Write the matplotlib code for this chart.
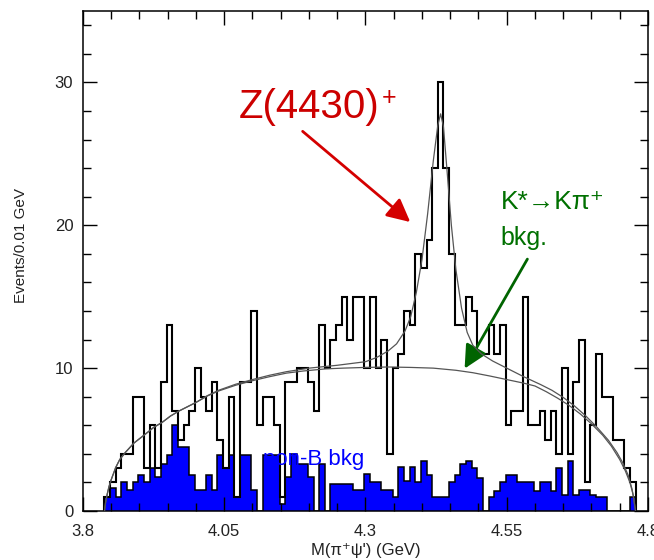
import numpy as np
import matplotlib
matplotlib.use("Agg")
import matplotlib.pyplot as plt

plt.rcParams['font.family'] = ['Liberation Sans', 'DejaVu Sans']

# histogram contents, 0.01 GeV bins
bin_start = 3.838
bin_width = 0.01
events = [1, 2, 3, 4, 4, 8, 8, 3, 6, 3,
          9, 13, 7, 5, 6, 7, 10, 8, 7, 9,
          5, 3, 8, 1, 9, 9, 14, 6, 8, 8,
          6, 1, 9, 9, 10, 10, 9, 7, 13, 10,
          12, 13, 15, 12, 15, 15, 10, 15, 10, 12,
          4, 10, 11, 14, 13, 18, 17, 19, 24, 30,
          24, 18, 13, 13, 15, 14, 11, 11, 13, 11,
          13, 6, 7, 7, 15, 6, 6, 7, 5, 7,
          4, 10, 4, 9, 12, 2, 6, 11, 8, 8,
          5, 5, 3, 2]
nonb_bkg = [1.0, 1.6, 1.0, 2.0, 1.5, 2.0, 2.5, 2.0, 3.0, 2.4,
            3.3, 3.9, 6.0, 4.5, 4.5, 2.5, 1.5, 1.5, 2.5, 1.5,
            3.9, 3.0, 3.9, 1.0, 3.9, 3.9, 1.5, 0.0, 3.9, 3.9,
            3.9, 0.5, 2.4, 4.0, 3.3, 3.3, 2.4, 0.0, 3.3, 0.0,
            1.9, 1.9, 1.9, 1.9, 1.5, 1.5, 2.6, 2.0, 2.0, 1.5,
            1.5, 1.0, 3.1, 2.1, 3.1, 2.0, 3.5, 2.5, 1.0, 1.0,
            1.0, 2.0, 2.5, 3.3, 3.5, 3.0, 2.3, 0.0, 1.0, 1.4,
            2.0, 2.5, 2.5, 2.0, 2.0, 2.0, 1.4, 2.0, 2.0, 1.4,
            3.0, 1.1, 3.5, 1.1, 1.5, 1.5, 1.1, 1.0, 1.0, 0.0,
            0.0, 0.0, 0.0, 1.0]

# fitted curves
bkg_x = [3.838, 3.840, 3.843, 3.846, 3.850, 3.858, 3.865, 3.875, 3.890, 3.911,
         3.925, 3.940, 3.955, 3.970, 3.985, 4.000, 4.020, 4.040, 4.070, 4.100,
         4.130, 4.160, 4.190, 4.230, 4.260, 4.300, 4.340, 4.380, 4.420, 4.460,
         4.490, 4.520, 4.550, 4.580, 4.600, 4.620, 4.640, 4.660, 4.680, 4.700,
         4.720, 4.735, 4.750, 4.760, 4.768, 4.774, 4.778]
bkg_y = [0.0, 0.6, 1.2, 1.7, 2.2, 3.05, 3.6, 4.1, 4.75, 5.4,
         5.85, 6.2, 6.65, 7.0, 7.3, 7.6, 8.05, 8.4, 8.8, 9.12,
         9.4, 9.65, 9.8, 9.95, 10.0, 10.05, 10.08, 10.05, 10.0, 9.85,
         9.68, 9.45, 9.2, 8.95, 8.75, 8.35, 7.9, 7.4, 6.8, 6.1,
         5.3, 4.55, 3.6, 2.8, 2.0, 1.1, 0.0]
fit_x = [3.838, 3.840, 3.843, 3.846, 3.850, 3.858, 3.865, 3.875, 3.890, 3.911,
         3.925, 3.940, 3.955, 3.970, 3.985, 4.000, 4.020, 4.040, 4.070, 4.100,
         4.130, 4.160, 4.200, 4.250, 4.300, 4.320, 4.340, 4.355, 4.370, 4.380,
         4.390, 4.400, 4.410, 4.420, 4.428, 4.433, 4.438, 4.445, 4.452, 4.460,
         4.470, 4.480, 4.490, 4.505, 4.525, 4.550, 4.580, 4.610, 4.630, 4.650,
         4.670, 4.690, 4.710, 4.730, 4.745, 4.755, 4.765, 4.772, 4.778]
fit_y = [0.0, 0.6, 1.2, 1.7, 2.2, 3.05, 3.6, 4.1, 4.75, 5.4,
         5.85, 6.2, 6.65, 7.0, 7.3, 7.6, 8.07, 8.45, 8.87, 9.2,
         9.5, 9.75, 10.0, 10.2, 10.45, 10.75, 11.2, 11.7, 12.6, 13.6,
         15.3, 17.6, 20.8, 24.5, 27.0, 27.8, 26.9, 23.5, 20.0, 16.9,
         14.2, 12.5, 11.6, 11.0, 10.5, 10.0, 9.4, 8.85, 8.45, 7.95,
         7.35, 6.65, 5.85, 4.95, 4.1, 3.4, 2.5, 1.5, 0.0]

edges = bin_start + bin_width * np.arange(len(events) + 1)

fig = plt.figure(figsize=(6.54, 5.6), dpi=100)
ax = fig.add_axes([0.1269, 0.0875, 0.8639, 0.8929])

ax.stairs(nonb_bkg, edges, fill=True, color='#0000ff', zorder=1)
ax.stairs(nonb_bkg, edges, color='black', lw=1.1, baseline=0, zorder=2)
ax.stairs(events, edges, color='black', lw=1.5, baseline=0, zorder=3)
ax.plot(bkg_x, bkg_y, color='#555555', lw=0.9, zorder=4)
ax.plot(fit_x, fit_y, color='#555555', lw=0.9, zorder=4)

ax.set_xlim(3.8, 4.8)
ax.set_ylim(0, 35)
ax.set_xticks([3.8, 4.05, 4.3, 4.55, 4.8])
ax.set_xticklabels(['3.8', '4.05', '4.3', '4.55', '4.8'])
ax.set_xticks(np.arange(3.8, 4.8, 0.05), minor=True)
ax.set_yticks([0, 10, 20, 30])
ax.set_yticks(np.arange(0, 35, 2), minor=True)
ax.tick_params(which='both', direction='in', top=True, right=True, width=1, colors='black',
               labelcolor='#222222', labelsize=12)
ax.tick_params(which='major', length=10)
ax.tick_params(which='minor', length=6)
ax.tick_params(axis='x', pad=9)
ax.tick_params(axis='y', pad=7)
for s in ax.spines.values():
    s.set_linewidth(1.1)

ax.set_xlabel("M(\u03c0\u207a\u03c8') (GeV)", fontsize=12, color='#222222', labelpad=3)
ax.set_ylabel("Events/0.01 GeV", fontsize=11, color='#222222')
ax.yaxis.set_label_coords(-0.098, 0.53)

# annotations
ax.text(4.075, 28.3, "Z(4430)", color='#cc0000', fontsize=29, va='center', ha='left')
ax.text(4.328, 28.9, "+", color='#cc0000', fontsize=18, va='center', ha='left')
ax.annotate("", xy=(4.383, 20.1), xytext=(4.185, 26.7),
            arrowprops=dict(arrowstyle='-|>,head_length=1.4,head_width=0.7', color='#d40000', lw=2))
ax.text(4.539, 21.6, "K*\u2192K\u03c0\u207a", color='#007000', fontsize=19, va='center', ha='left')
ax.text(4.539, 19.1, "bkg.", color='#007000', fontsize=18, va='center', ha='left')
ax.annotate("", xy=(4.473, 9.8), xytext=(4.589, 17.8),
            arrowprops=dict(arrowstyle='-|>,head_length=1.4,head_width=0.7', color='#006400', lw=2))
ax.text(4.118, 3.6, "non-B bkg", color='#0000ff', fontsize=16, va='center', ha='left')

fig.savefig("out.png", dpi=100)
